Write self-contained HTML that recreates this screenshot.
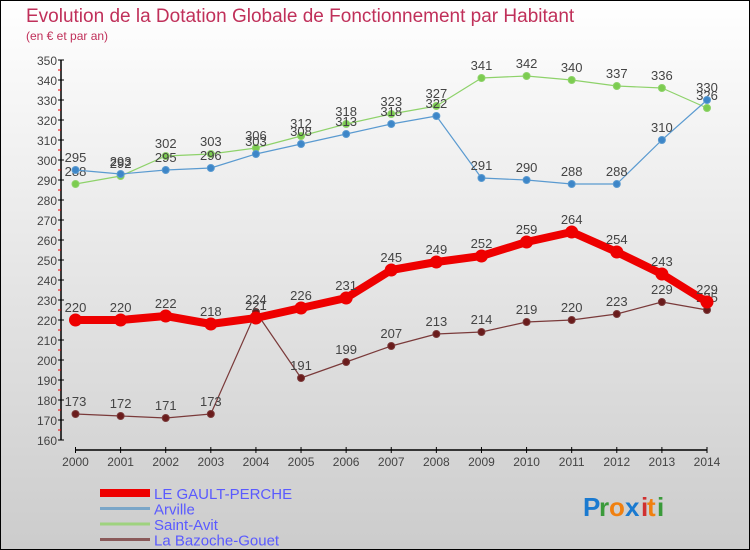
<!DOCTYPE html>
<html><head><meta charset="utf-8"><style>
body{margin:0}
#c{position:relative;width:750px;height:550px;box-sizing:border-box;border:1px solid #000;background:linear-gradient(#ffffff,#cccccc);font-family:"Liberation Sans",sans-serif;overflow:hidden}
</style></head><body>
<div id="c">
<svg id="s" width="750" height="550" style="position:absolute;left:-1px;top:-1px"></svg>
</div>
<script>
const years=[2000,2001,2002,2003,2004,2005,2006,2007,2008,2009,2010,2011,2012,2013,2014];
const gault=[220,220,222,218,221,226,231,245,249,252,259,264,254,243,229];
const arville=[295,293,295,296,303,308,313,318,322,291,290,288,288,310,330];
const saintAvit=[288,292,302,303,306,312,318,323,327,341,342,340,337,336,326];
const bazoche=[173,172,171,173,224,191,199,207,213,214,219,220,223,229,225];
const yTicks=[160,170,180,190,200,210,220,230,240,250,260,270,280,290,300,310,320,330,340,350];
const NS="http://www.w3.org/2000/svg";
const svg=document.getElementById('s');
const X=i=>75.5+i*(707-75.5)/14;
const Y=v=>440-(v-160)*(380/190);
function el(t,a,p){const e=document.createElementNS(NS,t);for(const k in a)e.setAttribute(k,a[k]);(p||svg).appendChild(e);return e;}
function tx(x,y,s,o){const e=el('text',Object.assign({x:x,y:y,'font-size':13,fill:'#444'},o||{}));e.textContent=s;return e;}
let t=tx(26,22,'Evolution de la Dotation Globale de Fonctionnement par Habitant',{'font-size':19,fill:'#c0305a'});

t=tx(26,40,'(en € et par an)',{'font-size':12,fill:'#c0305a'});

// y axis
let ax=el('line',{x1:61,y1:Y(350),x2:61,y2:Y(160),stroke:'#000','stroke-width':1.5});

yTicks.forEach(v=>{el('line',{x1:58,x2:64,y1:Y(v),y2:Y(v),stroke:'#000'});
 if(v<350)el('line',{x1:58,x2:61,y1:Y(v+5),y2:Y(v+5),stroke:'#e00'});
 const l=tx(57,Y(v)+5,v,{'text-anchor':'end','font-size':12});
 });
ax=el('line',{x1:X(0),y1:450,x2:X(14),y2:450,stroke:'#000','stroke-width':1.5});

years.forEach((y,i)=>{el('line',{x1:X(i),x2:X(i),y1:447,y2:453,stroke:'#000'});
 const l=tx(X(i),466,y,{'text-anchor':'middle','font-size':12});
 });
function series(d,col,w,r,name,dark){
 const g=el('g',{});
 el('polyline',{points:d.map((v,i)=>X(i)+','+Y(v)).join(' '),fill:'none',stroke:col,'stroke-width':w,'stroke-linejoin':'round'},g);
 d.forEach((v,i)=>{const c=el('circle',{cx:X(i),cy:Y(v),r:r,fill:dark,stroke:col},g);
  
  tx(X(i),Y(v)-8,v,{'text-anchor':'middle'},g);});
}
series(saintAvit,'#8ed26a',1.2,3.5,'saint-avit-line','#7ccc50');
series(arville,'#5a9ad0',1.2,3.5,'arville-line','#3d86c8');
series(bazoche,'#7a3a3a',1.2,3.5,'la-bazoche-gouet-line','#6a1c1c');
series(gault,'#ee0000',8,6,'le-gault-perche-line','#ee0000');
const leg=[['LE GAULT-PERCHE','#ee0000',8],['Arville','#7aa6c8',3],['Saint-Avit','#9ed27e',3],['La Bazoche-Gouet','#8a5a5a',3]];
leg.forEach((l,i)=>{const y=493+i*15.5;const g=el('g',{});
 
 el('line',{x1:100,x2:150,y1:y,y2:y,stroke:l[1],'stroke-width':l[2]},g);
 tx(154,y+6,l[0],{fill:'#5a5aff','font-size':15},g);});
const lg=el('g',{});
[['P','#1a7ad0'],['r','#3a9a3a'],['o','#f08010'],['x','#1a7ad0'],['i','#d03030'],['t','#f08010'],['i','#3a9a3a']].forEach((c,i)=>{
 tx(583+[0,16,26,42,58,64,74][i],516,c[0],{'font-size':26,'font-weight':'bold',fill:c[1]},lg);});
</script>
</body></html>
